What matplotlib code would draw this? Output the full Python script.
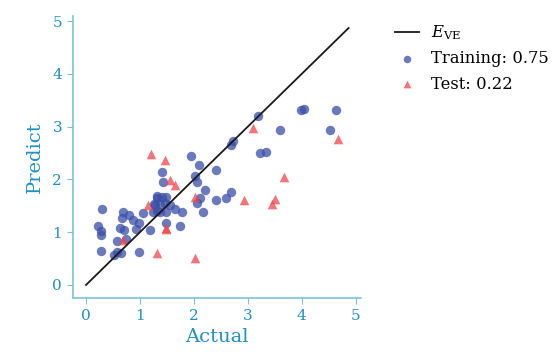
import matplotlib.pyplot as plt

# training set (actual, predicted)
train_actual = [0.29, 0.22, 0.28, 0.28, 0.28, 0.51, 0.58, 0.65, 0.57, 0.63, 0.70, 0.74,
                0.66, 0.68, 0.80, 0.88, 0.92, 0.99, 1.05, 0.99, 1.18, 1.26, 1.31, 1.32,
                1.40, 1.49, 1.28, 1.37, 1.46, 1.56, 1.25, 1.37, 1.49, 1.32, 1.65, 1.78,
                1.43, 1.41, 1.49, 1.74, 1.94, 2.09, 2.02, 2.05, 2.11, 2.06, 2.17, 2.20,
                2.41, 2.41, 2.59, 2.69, 2.68, 2.73, 3.19, 3.22, 3.33, 3.59, 3.98, 4.05,
                4.63, 4.53]
train_pred = [1.44, 1.12, 1.03, 0.94, 0.65, 0.57, 0.62, 0.60, 0.84, 1.08, 1.04, 0.87,
              1.27, 1.38, 1.32, 1.23, 1.06, 1.18, 1.36, 0.63, 1.04, 1.53, 1.64, 1.68,
              1.67, 1.66, 1.52, 1.53, 1.55, 1.52, 1.39, 1.39, 1.39, 1.41, 1.43, 1.39,
              1.95, 2.14, 1.18, 1.12, 2.44, 2.28, 2.07, 1.96, 1.65, 1.55, 1.39, 1.79,
              2.18, 1.61, 1.65, 1.77, 2.66, 2.72, 3.21, 2.50, 2.52, 2.93, 3.32, 3.34,
              3.32, 2.93]

# test set
test_actual = [1.20, 1.47, 1.55, 1.65, 1.15, 2.02, 1.48, 1.49, 0.68, 1.31, 2.02,
               3.10, 2.93, 3.51, 3.45, 3.67, 4.67]
test_pred = [2.49, 2.37, 1.99, 1.90, 1.52, 1.66, 1.08, 1.06, 0.85, 0.60, 0.51,
             2.97, 1.61, 1.63, 1.53, 2.04, 2.77]

ve_line = [0, 4.87]
train_score = 0.75
test_score = 0.22

spine_col = '#7cc2da'
text_col = '#2090c4'

plt.rcParams['font.family'] = 'DejaVu Serif'
plt.rcParams['mathtext.fontset'] = 'dejavuserif'

fig = plt.figure(figsize=(5.58, 3.52), dpi=100)
ax = fig.add_axes([0.13, 0.153, 0.517, 0.802])

ax.plot(ve_line, ve_line, color='#1a1a1a', lw=1.3, label=r'$E_{\rm VE}$', zorder=3)
ax.scatter(train_actual, train_pred, s=46, color='#3a4ea6', alpha=0.75, lw=0,
           label='Training: %.2f' % train_score, zorder=2)
ax.scatter(test_actual, test_pred, s=48, marker='^', color='#f0474d', alpha=0.75, lw=0,
           label='Test: %.2f' % test_score, zorder=2)

ax.set_xlim(-0.25, 5.1)
ax.set_ylim(-0.25, 5.1)
ax.set_xticks(range(6))
ax.set_yticks(range(6))
for side in ['top', 'right']:
    ax.spines[side].set_visible(False)
for side in ['left', 'bottom']:
    ax.spines[side].set_color(spine_col)
    ax.spines[side].set_linewidth(1.2)
ax.tick_params(colors=spine_col, labelcolor=text_col, labelsize=11, length=4)
ax.set_xlabel('Actual', color=text_col, fontsize=14, labelpad=4)
ax.set_ylabel('Predict', color=text_col, fontsize=14, labelpad=6)

ax.legend(loc='upper left', bbox_to_anchor=(1.065, 1.025), frameon=False,
          fontsize=11.8, handlelength=1.5, handletextpad=0.7, labelspacing=0.5,
          markerscale=0.8)

fig.savefig('out.png', dpi=100)
